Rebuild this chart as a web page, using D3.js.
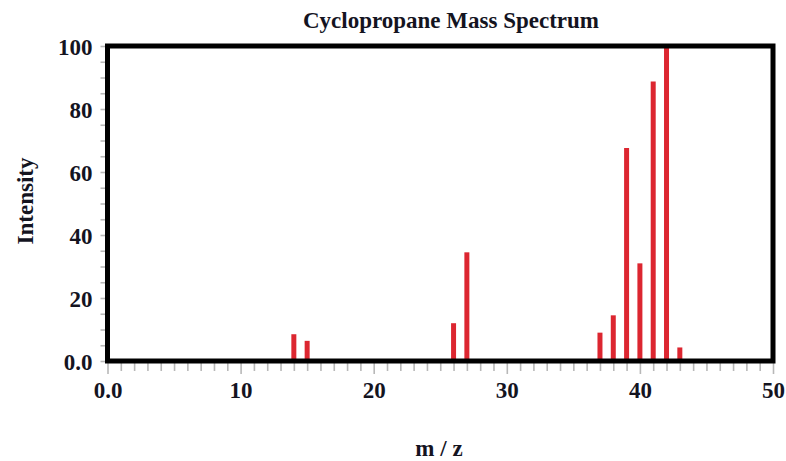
<!DOCTYPE html>
<html>
<head>
<meta charset="utf-8">
<script src="https://cdn.jsdelivr.net/npm/d3@7"></script>
<style>
  html, body { margin: 0; padding: 0; background: #fff; }
  svg { display: block; }
  text { font-family: "Liberation Serif", "Times New Roman", serif; font-weight: bold; fill: #14141f; }
</style>
</head>
<body>
<svg id="chart" width="786" height="461"></svg>
<script>
// Data
const massToCharge = [14, 15, 26, 27, 37, 38, 39, 40, 41, 42, 43];
const intensity    = [8.5, 6.4, 12.0, 34.5, 9.0, 14.5, 67.6, 31.0, 88.7, 100, 4.3];
const xTickValues  = [0, 10, 20, 30, 40, 50];
const xTickLabels  = ["0.0", "10", "20", "30", "40", "50"];
const yTickValues  = [0, 20, 40, 60, 80, 100];
const yTickLabels  = ["0.0", "20", "40", "60", "80", "100"];
const titleText = "Cyclopropane Mass Spectrum";
const xLabelText = "m / z";
const yLabelText = "Intensity";

const svg = d3.select("#chart");
const plot = { left: 107.5, right: 773, top: 46, bottom: 361 };

const x = d3.scaleLinear().domain([0, 50]).range([plot.left, plot.right]);
const y = d3.scaleLinear().domain([0, 100]).range([plot.bottom, plot.top]);

// faint minor ticks below x axis
const xMinor = d3.axisBottom(x).tickValues(d3.range(0, 51, 1)).tickSize(8).tickFormat("");
const gxm = svg.append("g").attr("transform", `translate(0,${plot.bottom + 2})`).call(xMinor);
gxm.select(".domain").remove();
gxm.selectAll("line").attr("stroke", "#b8b8b8").attr("stroke-width", 1.6)
  .attr("y2", d => d % 10 === 0 ? 11 : 8);

// faint minor ticks left of y axis
const yMinor = d3.axisLeft(y).tickValues(d3.range(0, 101, 5)).tickSize(5).tickFormat("");
const gym = svg.append("g").attr("transform", `translate(${plot.left - 2},0)`).call(yMinor);
gym.select(".domain").remove();
gym.selectAll("line").attr("stroke", "#b8b8b8").attr("stroke-width", 1.6);

// x tick labels
const xAxis = d3.axisBottom(x).tickValues(xTickValues).tickSize(0)
  .tickFormat((d, i) => xTickLabels[i]);
const gx = svg.append("g").attr("transform", `translate(0,${plot.bottom})`).call(xAxis);
gx.select(".domain").remove();
gx.selectAll("text").attr("font-size", 23).attr("dy", null).attr("y", 37)
  .attr("font-family", "Liberation Serif").attr("font-weight", "bold").attr("fill", "#14141f");

// y tick labels
const yAxis = d3.axisLeft(y).tickValues(yTickValues).tickSize(0)
  .tickFormat((d, i) => yTickLabels[i]);
const gy = svg.append("g").attr("transform", `translate(${plot.left},0)`).call(yAxis);
gy.select(".domain").remove();
gy.selectAll("text").attr("font-size", 23).attr("x", -15).attr("dy", "0.36em")
  .attr("font-family", "Liberation Serif").attr("font-weight", "bold").attr("fill", "#14141f");

// bars (sticks)
svg.append("g").selectAll("line").data(massToCharge).join("line")
  .attr("x1", d => x(d)).attr("x2", d => x(d))
  .attr("y1", y(0)).attr("y2", (d, i) => y(intensity[i]))
  .attr("stroke", "#dc2630").attr("stroke-width", 5);

// frame
svg.append("rect")
  .attr("x", plot.left).attr("y", plot.top)
  .attr("width", plot.right - plot.left).attr("height", plot.bottom - plot.top)
  .attr("fill", "none").attr("stroke", "#000").attr("stroke-width", 5);

// title
svg.append("text").attr("x", 451).attr("y", 28).attr("text-anchor", "middle")
  .attr("font-size", 23).text(titleText);

// x label
svg.append("text").attr("x", 439).attr("y", 456).attr("text-anchor", "middle")
  .attr("font-size", 23).text(xLabelText);

// y label
svg.append("text").attr("transform", "translate(33,201) rotate(-90)")
  .attr("text-anchor", "middle").attr("font-size", 23).text(yLabelText);
</script>
</body>
</html>
